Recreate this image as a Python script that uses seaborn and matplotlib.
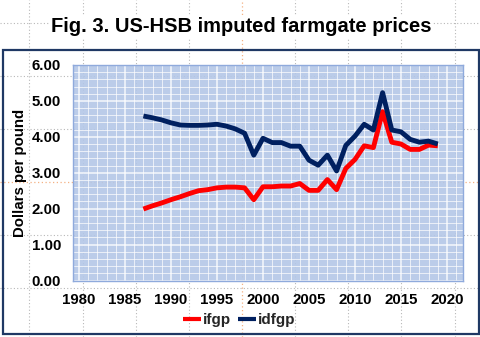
import numpy as np
import pandas as pd
import matplotlib
matplotlib.use("Agg")
import matplotlib.pyplot as plt
from matplotlib.lines import Line2D
from matplotlib.patches import Rectangle
from matplotlib.ticker import MultipleLocator, FormatStrFormatter
import seaborn as sns

# Annual imputed farmgate prices, dollars per pound
years = list(range(1987, 2020))
ifgp = [1.99, 2.08, 2.16, 2.25, 2.33, 2.42, 2.50, 2.53, 2.58, 2.60,
        2.60, 2.58, 2.25, 2.61, 2.61, 2.63, 2.63, 2.70, 2.51, 2.51,
        2.81, 2.53, 3.12, 3.37, 3.75, 3.70, 4.70, 3.85, 3.80, 3.65,
        3.65, 3.77, 3.75]
idfgp = [4.58, 4.53, 4.47, 4.39, 4.33, 4.32, 4.32, 4.33, 4.35, 4.30,
         4.22, 4.10, 3.49, 3.96, 3.84, 3.84, 3.74, 3.74, 3.35, 3.21,
         3.49, 3.05, 3.76, 4.02, 4.35, 4.19, 5.23, 4.19, 4.14, 3.93,
         3.85, 3.88, 3.80]
series_names = ["ifgp", "idfgp"]
series_colors = ["#ff0000", "#002060"]
x_ticks = [1980, 1985, 1990, 1995, 2000, 2005, 2010, 2015, 2020]
title = "Fig. 3. US-HSB imputed farmgate prices"
y_label = "Dollars per pound"

df = pd.DataFrame({
    "year": years * 2,
    "price": ifgp + idfgp,
    "series": ["ifgp"] * len(years) + ["idfgp"] * len(years),
})

sns.set_theme(style="white")
plt.rcParams["font.family"] = ["Liberation Sans", "DejaVu Sans"]
plt.rcParams["font.weight"] = "bold"

W, H = 480, 337
fig = plt.figure(figsize=(W / 100, H / 100), dpi=100)
fig.patch.set_facecolor("white")

def fx(px):
    return px / W

def fy(py):
    return 1 - py / H

# worksheet cell grid behind the chart
for gx in [29, 83, 136, 189, 295, 348, 401, 455]:
    fig.add_artist(Line2D([fx(gx)] * 2, [0, 1], transform=fig.transFigure,
                          color="#b8b8b8", lw=0.8, ls=(0, (1, 2)), zorder=-2))
for gy in [23, 76, 129, 235, 288]:
    fig.add_artist(Line2D([0, 1], [fy(gy)] * 2, transform=fig.transFigure,
                          color="#b8b8b8", lw=0.8, ls=(0, (1, 2)), zorder=-2))
fig.add_artist(Line2D([fx(241.5)] * 2, [0, 1], transform=fig.transFigure,
                      color="#f4b183", lw=0.9, ls=(0, (1, 2)), zorder=-2))
fig.add_artist(Line2D([0, 1], [fy(182)] * 2, transform=fig.transFigure,
                      color="#f4b183", lw=0.9, ls=(0, (1, 2)), zorder=-2))

# chart frame
fig.add_artist(Rectangle((fx(3), fy(334)), fx(476), (334 - 50) / H,
                         transform=fig.transFigure, fill=False,
                         edgecolor="#1f3864", lw=1.6, zorder=5))

ax = fig.add_axes([fx(73), fy(280.5), fx(390), (280.5 - 65) / H])
ax.set_facecolor((0.706, 0.780, 0.906, 0.9))
ax.set_zorder(1)

ax.xaxis.set_minor_locator(MultipleLocator(1))
ax.yaxis.set_minor_locator(MultipleLocator(0.2))
ax.grid(which="major", color="white", lw=1.1, alpha=0.85)
ax.grid(which="minor", color="white", lw=0.7, alpha=0.7)
ax.set_axisbelow(True)

sns.lineplot(data=df, x="year", y="price", hue="series",
             hue_order=series_names, palette=series_colors,
             linewidth=3.5, ax=ax, legend=True)
for ln in ax.lines:
    ln.set_solid_joinstyle("round")
    ln.set_solid_capstyle("butt")

ax.set_xlim(1979.35, 2021.74)
ax.set_ylim(0, 6)
ax.set_xticks(x_ticks)
ax.set_yticks(np.arange(0, 6.01, 1.0))
ax.yaxis.set_major_formatter(FormatStrFormatter("%.2f"))
ax.tick_params(axis="both", which="both", length=0, labelsize=10.8,
               labelcolor="black")
ax.tick_params(axis="x", pad=9)
ax.tick_params(axis="y", pad=8.5)
for lab in ax.get_xticklabels() + ax.get_yticklabels():
    lab.set_fontweight("bold")

ax.set_xlabel("")
ax.set_ylabel(y_label, fontsize=10.8, fontweight="bold", color="black")
ax.yaxis.set_label_coords(-0.118, 0.5)

for s in ax.spines.values():
    s.set_visible(True)
    s.set_color("#8faadc")
    s.set_linewidth(1.0)

handles, labels = ax.get_legend_handles_labels()
for h in handles:
    h.set_linewidth(3.0)
ax.legend(handles, labels, loc="center", bbox_to_anchor=(fx(239), fy(320)),
          bbox_transform=fig.transFigure, ncol=2, frameon=False,
          handlelength=1.2, handletextpad=0.12,
          columnspacing=0.45, prop={"weight": "bold", "size": 11})

fig.text(fx(241), fy(27), title, ha="center", va="center", fontsize=14.5,
         fontweight="bold", color="black", zorder=6,
         bbox=dict(facecolor="white", edgecolor="none", pad=1))

fig.savefig("out.png", dpi=100, facecolor="white")
